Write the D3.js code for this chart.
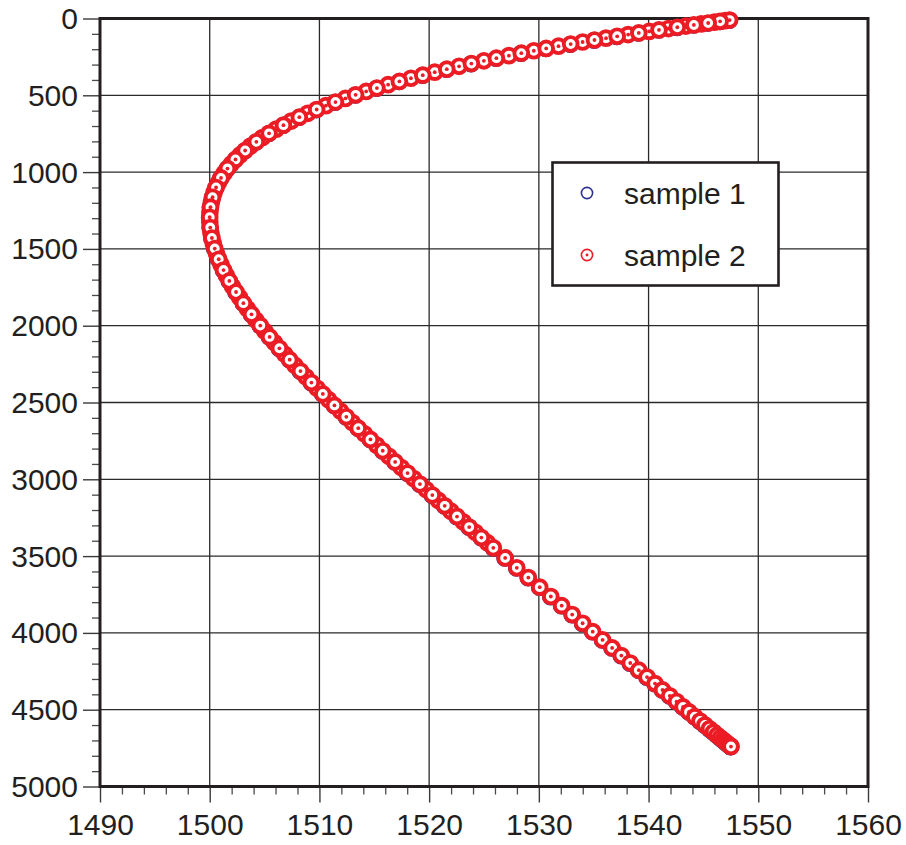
<!DOCTYPE html>
<html>
<head>
<meta charset="utf-8">
<script src="https://cdn.jsdelivr.net/npm/d3@7"></script>
<style>
  html, body { margin: 0; padding: 0; background: #ffffff; }
  svg { display: block; font-family: "Liberation Sans", Arial, Helvetica, sans-serif; }
</style>
</head>
<body>
<svg id="chart" width="906" height="845"></svg>
<script>
// ---- data ----
// main depth grid (m) and sound speed (m/s)
const depthMain = [
  10.5, 18.7, 29.2, 42.0, 57.1, 74.5, 94.1, 116.0, 140.1, 166.4, 194.9, 225.6, 258.3, 293.2,
  330.0, 368.9, 409.8, 452.7, 497.2, 543.9, 592.3, 642.3, 694.2, 747.7, 802.7, 859.4, 917.4,
  976.9, 1037.8, 1100.2, 1163.7, 1228.1, 1294.0, 1360.9, 1428.9, 1497.6, 1567.3, 1637.7,
  1708.8, 1780.6, 1853.1, 1925.9, 1999.3, 2073.0, 2147.0, 2221.2, 2295.6, 2370.0, 2444.4,
  2518.8, 2593.0, 2667.0, 2740.7, 2814.1, 2886.9, 2959.4, 3031.2, 3102.4, 3172.7, 3242.4,
  3311.1, 3379.1, 3446.0, 3511.9, 3576.3, 3639.8, 3702.2, 3763.1, 3822.6, 3880.6, 3937.3,
  3992.3, 4045.8, 4097.7, 4147.7, 4196.1, 4242.8, 4287.3, 4330.2, 4371.0, 4409.9, 4446.8,
  4481.7, 4514.4, 4545.2, 4573.6, 4600.0, 4624.1, 4645.9, 4665.6, 4682.9, 4698.0, 4710.8,
  4721.3, 4729.5, 4735.3, 4738.8, 4740.0
];
const speedMain = [
  1547.39, 1546.52, 1545.43, 1544.13, 1542.62, 1540.95, 1539.11, 1537.14, 1535.07, 1532.90,
  1530.67, 1528.40, 1526.13, 1523.85, 1521.61, 1519.42, 1517.29, 1515.24, 1513.30, 1511.46,
  1509.75, 1508.17, 1506.72, 1505.41, 1504.25, 1503.23, 1502.35, 1501.62, 1501.03, 1500.58,
  1500.26, 1500.07, 1500.00, 1500.05, 1500.20, 1500.46, 1500.82, 1501.26, 1501.79, 1502.40,
  1503.07, 1503.81, 1504.61, 1505.46, 1506.35, 1507.29, 1508.27, 1509.27, 1510.31, 1511.37,
  1512.45, 1513.54, 1514.65, 1515.77, 1516.90, 1518.03, 1519.16, 1520.29, 1521.42, 1522.54,
  1523.65, 1524.76, 1525.85, 1526.93, 1527.99, 1529.04, 1530.08, 1531.09, 1532.08, 1533.04,
  1533.99, 1534.91, 1535.81, 1536.68, 1537.52, 1538.33, 1539.11, 1539.86, 1540.59, 1541.27,
  1541.93, 1542.55, 1543.14, 1543.69, 1544.21, 1544.69, 1545.14, 1545.55, 1545.92, 1546.25,
  1546.54, 1546.80, 1547.01, 1547.19, 1547.33, 1547.43, 1547.49, 1547.51
];
// intermediate samples of sample 2 (partly hidden crescents between the main markers)
const depthMid = [
  14.3, 23.6, 35.3, 49.2, 65.5, 84.0, 104.8, 127.8, 153.0, 180.4, 210.0, 241.7, 275.5, 311.3,
  349.2, 389.1, 431.0, 474.8, 520.4, 567.8, 617.1, 668.0, 720.2, 775.0, 830.8, 888.2, 947.0,
  1007.3, 1068.8, 1131.7, 1195.8, 1261.0, 1327.3, 1394.7, 1463.0, 1532.3, 1602.3, 1673.1,
  1744.6, 1816.7, 1889.4, 1962.5, 2036.1, 2109.9, 2184.1, 2258.4, 2332.8, 2407.2, 2481.6,
  2555.9, 2630.1, 2703.9, 2777.5, 2850.6, 2923.3, 2995.4, 3066.9, 3137.7, 3207.7, 3277.0,
  3345.3, 3412.7
];
const speedMid = [
  1546.98, 1546.01, 1544.80, 1543.40, 1541.81, 1540.05, 1538.14, 1536.12, 1533.99, 1531.79,
  1529.54, 1527.27, 1524.99, 1522.73, 1520.51, 1518.34, 1516.26, 1514.26, 1512.37, 1510.59,
  1508.94, 1507.43, 1506.06, 1504.81, 1503.72, 1502.77, 1501.97, 1501.31, 1500.79, 1500.40,
  1500.15, 1500.02, 1500.01, 1500.11, 1500.32, 1500.63, 1501.03, 1501.52, 1502.08, 1502.73,
  1503.43, 1504.20, 1505.03, 1505.90, 1506.82, 1507.78, 1508.77, 1509.79, 1510.84, 1511.91,
  1513.00, 1514.10, 1515.21, 1516.33, 1517.46, 1518.59, 1519.73, 1520.85, 1521.98, 1523.10,
  1524.21, 1525.31
];
const seriesNames = ["sample 1", "sample 2"];
const xTicks = [1490, 1500, 1510, 1520, 1530, 1540, 1550, 1560];
const yTicks = [0, 500, 1000, 1500, 2000, 2500, 3000, 3500, 4000, 4500, 5000];

// ---- layout ----
const svg = d3.select("#chart");
const L = 100, R = 868, T = 18.5, B = 786.5;
const ink = "#231f20";
const red = "#ec1c24";
const blue = "#2e3192";

const x = d3.scaleLinear().domain([1490, 1560]).range([L, R]);
const y = d3.scaleLinear().domain([0, 5000]).range([T, B]);

// grid
const grid = svg.append("g");
grid.selectAll("line.vx").data(xTicks.slice(1, -1)).join("line")
  .attr("x1", d => x(d)).attr("x2", d => x(d)).attr("y1", T).attr("y2", B)
  .attr("stroke", "#2a2a2a").attr("stroke-width", 1.3);
grid.selectAll("line.hy").data(yTicks.slice(1, -1)).join("line")
  .attr("x1", L).attr("x2", R).attr("y1", d => y(d)).attr("y2", d => y(d))
  .attr("stroke", "#2a2a2a").attr("stroke-width", 1.3);

// minor ticks
const yMinor = d3.range(0, 5001, 100).filter(v => v % 500 !== 0);
const xMinor = d3.range(1490, 1561, 2).filter(v => v % 10 !== 0);
const gyMinor = svg.append("g").attr("transform", `translate(${L},0)`)
  .call(d3.axisLeft(y).tickValues(yMinor).tickSize(8).tickFormat(""));
const gxMinor = svg.append("g").attr("transform", `translate(0,${B})`)
  .call(d3.axisBottom(x).tickValues(xMinor).tickSize(8).tickFormat(""));
[gyMinor, gxMinor].forEach(g => {
  g.select(".domain").remove();
  g.selectAll("line").attr("stroke", "#4a4a4a").attr("stroke-width", 1.3);
});

// major axes
const gy = svg.append("g").attr("transform", `translate(${L},0)`)
  .call(d3.axisLeft(y).tickValues(yTicks).tickSize(17).tickPadding(5).tickFormat(d3.format("d")));
const gx = svg.append("g").attr("transform", `translate(0,${B})`)
  .call(d3.axisBottom(x).tickValues(xTicks).tickSize(16).tickPadding(11).tickFormat(d3.format("d")));
[gy, gx].forEach(g => {
  g.select(".domain").remove();
  g.selectAll("line").attr("stroke", "#3a3a3a").attr("stroke-width", 1.4);
  g.selectAll("text").attr("fill", ink).style("font-size", "30px")
    .style("font-family", '"Liberation Sans", Arial, Helvetica, sans-serif');
});
gy.selectAll("text").attr("dy", "0.33em");

// frame
svg.append("rect").attr("x", L).attr("y", T).attr("width", R - L).attr("height", B - T)
  .attr("fill", "none").attr("stroke", ink).attr("stroke-width", 3);

// series
const ptsMain = depthMain.map((d, i) => ({ z: d, c: speedMain[i] }));
const ptsMid = depthMid.map((d, i) => ({ z: d, c: speedMid[i] }));

// sample 1 (blue, underneath)
svg.append("g").selectAll("circle").data(ptsMain).join("circle")
  .attr("cx", d => x(d.c) - 0.3).attr("cy", d => y(d.z) + 0.3).attr("r", 7.4)
  .attr("fill", "#ffffff").attr("stroke", blue).attr("stroke-width", 2.4);

// sample 2 (red, circle with centre dot)
function drawRed(pts) {
  const g = svg.append("g");
  const m = g.selectAll("g").data(pts).join("g")
    .attr("transform", d => `translate(${x(d.c)},${y(d.z)})`);
  m.append("circle").attr("r", 6.9).attr("fill", "#ffffff").attr("stroke", red).attr("stroke-width", 3.9);
  m.append("circle").attr("r", 1.9).attr("fill", red);
}
drawRed(ptsMid);
drawRed(ptsMain);

// legend
const lg = svg.append("g");
lg.append("rect").attr("x", 552.5).attr("y", 162.5).attr("width", 226).attr("height", 123)
  .attr("fill", "#ffffff").attr("stroke", ink).attr("stroke-width", 2.6);
const legY = [193, 255];
lg.append("circle").attr("cx", 587).attr("cy", legY[0]).attr("r", 5.6)
  .attr("fill", "#ffffff").attr("stroke", blue).attr("stroke-width", 1.6);
lg.append("circle").attr("cx", 587).attr("cy", legY[1]).attr("r", 5.6)
  .attr("fill", "#ffffff").attr("stroke", red).attr("stroke-width", 1.6);
lg.append("circle").attr("cx", 587).attr("cy", legY[1]).attr("r", 1.4).attr("fill", red);
lg.selectAll("text").data(seriesNames).join("text")
  .attr("x", 624).attr("y", (d, i) => legY[i] + 10.5)
  .attr("fill", ink).style("font-size", "30px").text(d => d);
</script>
</body>
</html>
